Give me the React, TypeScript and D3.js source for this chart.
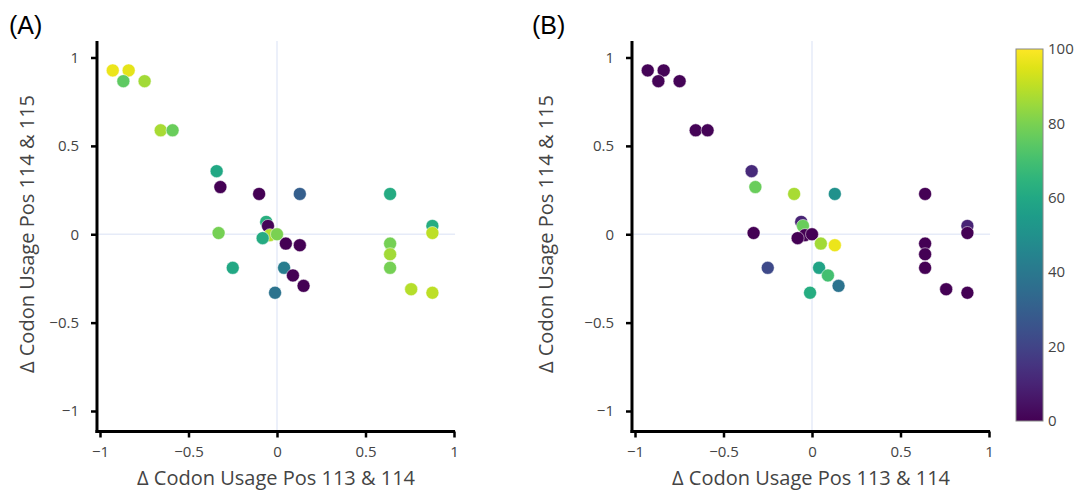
import React, { useEffect, useRef } from 'react';
import * as d3 from 'd3';

// shared point positions (same for both panels)
const deltaPos113 = [-0.928, -0.838, -0.868, -0.748, -0.657, -0.59, -0.341, -0.32, -0.101, 0.129, 0.639, -0.061, -0.051, -0.33, -0.04, -0.081, 0, 0.05, 0.129, 0.639, 0.639, 0.639, -0.25, 0.04, 0.09, 0.15, -0.011, 0.758, 0.878, 0.878, 0.878];
const deltaPos114 = [0.927, 0.927, 0.866, 0.866, 0.588, 0.588, 0.357, 0.267, 0.228, 0.228, 0.228, 0.07, 0.047, 0.007, -0.005, -0.022, 0, -0.053, -0.062, -0.053, -0.113, -0.19, -0.19, -0.19, -0.233, -0.292, -0.331, -0.311, -0.331, 0.047, 0.007];
// colour values, panel A and panel B
const valuesA = [97, 96, 75, 86, 87, 77, 60, 0, 0, 30, 61, 63, 1, 79, 88, 61, 80, 0, 0, 79, 86, 79, 60, 42, 0, 0, 38, 89, 90, 62, 90];
const valuesB = [1, 1, 1, 1, 1, 1, 12, 77, 87, 50, 0, 10, 77, 0, 0, 0, 0, 86, 97, 0, 0, 0, 22, 58, 70, 38, 62, 0, 0, 10, 0];

const axisTicks = [-1, -0.5, 0, 0.5, 1];
const barTicks = [0, 20, 40, 60, 80, 100];

const FONT = '"Open Sans", sans-serif';
const fmt = (d: number) => (d < 0 ? '\u2212' + Math.abs(d) : String(d));

const App = () => {
  const svgRef = useRef<SVGSVGElement>(null);

  useEffect(() => {
    const svg = d3.select(svgRef.current);
    svg.selectAll('*').remove();

    const color = (v: number) => d3.interpolateViridis(v / 100);

    const panels = [
      { label: '(A)', off: 0, labelX: 9, vals: valuesA },
      { label: '(B)', off: 535, labelX: 532, vals: valuesB },
    ];

    panels.forEach(p => {
      const x = d3.scaleLinear().domain([-1, 1]).range([100 + p.off, 454 + p.off]);
      const y = d3.scaleLinear().domain([-1, 1]).range([411, 57.5]);
      const x0 = x(-1.017), x1 = x(1.006);
      const yTop = 41, yBot = 431.5;

      const g = svg.append('g');

      // zero lines
      g.append('line')
        .attr('x1', x(0)).attr('x2', x(0)).attr('y1', yTop).attr('y2', yBot)
        .attr('stroke', '#e6ebf8').attr('stroke-width', 1.5);
      g.append('line')
        .attr('x1', x0).attr('x2', x1).attr('y1', y(0)).attr('y2', y(0))
        .attr('stroke', '#e6ebf8').attr('stroke-width', 1.5);

      // axes
      const yAxis = g.append('g')
        .attr('transform', `translate(${x0},0)`)
        .call(d3.axisLeft(y).tickValues(axisTicks).tickSize(6).tickPadding(12).tickFormat(fmt as any));
      const xAxis = g.append('g')
        .attr('transform', `translate(0,${yBot})`)
        .call(d3.axisBottom(x).tickValues(axisTicks).tickSize(6).tickPadding(9).tickFormat(fmt as any));

      [yAxis, xAxis].forEach(a => {
        a.select('.domain').remove();
        a.selectAll('.tick line').attr('stroke', '#000').attr('stroke-width', 2.5);
        a.selectAll('.tick text')
          .attr('fill', '#444')
          .style('font-family', FONT)
          .style('font-size', '15px');
      });

      g.append('line')
        .attr('x1', x0).attr('x2', x0).attr('y1', yTop).attr('y2', yBot + 1.5)
        .attr('stroke', '#000').attr('stroke-width', 3);
      g.append('line')
        .attr('x1', x0 - 1.5).attr('x2', x1).attr('y1', yBot).attr('y2', yBot)
        .attr('stroke', '#000').attr('stroke-width', 3);

      // points
      g.selectAll('circle')
        .data(deltaPos113.map((d, i) => ({ dx: d, dy: deltaPos114[i], v: p.vals[i] })))
        .enter().append('circle')
        .attr('cx', d => x(d.dx))
        .attr('cy', d => y(d.dy))
        .attr('r', 6.5)
        .attr('fill', d => color(d.v))
        .attr('stroke', '#fff')
        .attr('stroke-width', 0.5);

      // titles
      g.append('text')
        .attr('x', (x0 + x1) / 2).attr('y', 485)
        .attr('text-anchor', 'middle')
        .attr('fill', '#444')
        .style('font-family', FONT).style('font-size', '20px')
        .text('\u0394 Codon Usage Pos 113 & 114');
      g.append('text')
        .attr('transform', `translate(${33.5 + (p.off ? 519.5 : 0)},234) rotate(-90)`)
        .attr('text-anchor', 'middle')
        .attr('fill', '#444')
        .style('font-family', FONT).style('font-size', '20px')
        .text('\u0394 Codon Usage Pos 114 & 115');

      g.append('text')
        .attr('x', p.labelX).attr('y', 34)
        .attr('fill', '#000')
        .style('font-family', '"Liberation Sans", Arial, sans-serif')
        .style('font-size', '25px')
        .text(p.label);
    });

    // colour bar
    const cy = d3.scaleLinear().domain([0, 100]).range([421, 49]);
    const defs = svg.append('defs');
    const grad = defs.append('linearGradient')
      .attr('id', 'viridisGrad')
      .attr('x1', 0).attr('x2', 0).attr('y1', 1).attr('y2', 0);
    d3.range(0, 1.0001, 0.05).forEach(t => {
      grad.append('stop')
        .attr('offset', `${t * 100}%`)
        .attr('stop-color', d3.interpolateViridis(t));
    });
    svg.append('rect')
      .attr('x', 1016).attr('y', cy(100))
      .attr('width', 27).attr('height', cy(0) - cy(100))
      .attr('fill', 'url(#viridisGrad)')
      .attr('stroke', '#888').attr('stroke-width', 1);
    svg.append('g').selectAll('text')
      .data(barTicks)
      .enter().append('text')
      .attr('x', 1048)
      .attr('y', d => cy(d))
      .attr('dy', '0.35em')
      .attr('fill', '#444')
      .style('font-family', FONT)
      .style('font-size', '15px')
      .text(d => d);
  }, []);

  return (
    <svg ref={svgRef} width={1077} height={491}
      style={{ position: 'absolute', left: 0, top: 0, background: '#fff' }} />
  );
};

export default App;
